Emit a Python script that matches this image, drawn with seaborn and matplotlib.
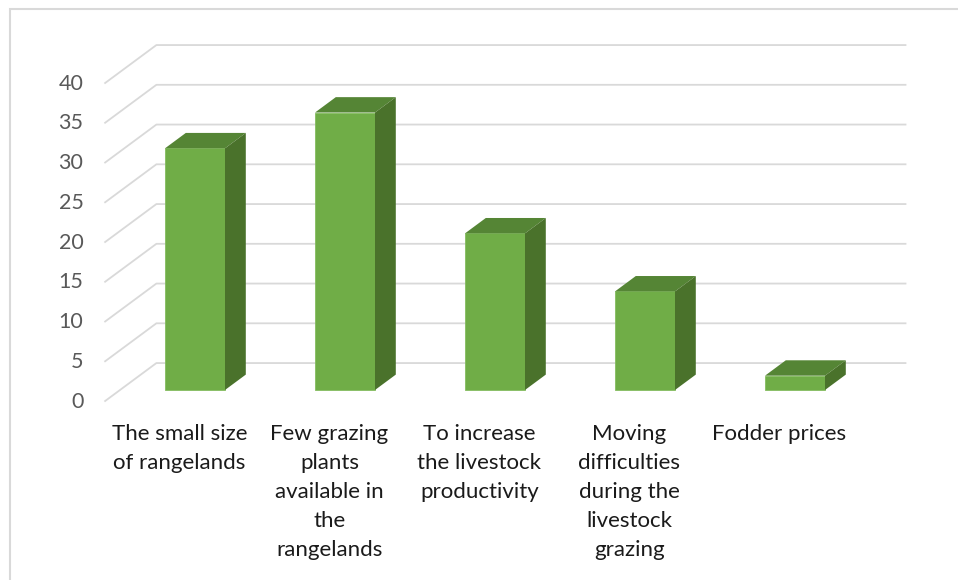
import matplotlib
matplotlib.use("Agg")
import matplotlib.pyplot as plt
from matplotlib.patches import Polygon, Rectangle
import seaborn as sns

categories = [
    "The small size\nof rangelands",
    "Few grazing\nplants\navailable in\nthe\nrangelands",
    "To increase\nthe livestock\nproductivity",
    "Moving\ndifficulties\nduring the\nlivestock\ngrazing",
    "Fodder prices",
]
values = [30.4, 34.9, 19.7, 12.4, 1.8]
yticks = [0, 5, 10, 15, 20, 25, 30, 35, 40]

sns.set_theme(style="white")
plt.rcParams["font.family"] = ["Lato", "DejaVu Sans"]

FRONT = "#70AD47"
TOP = "#558535"
SIDE = "#4A722B"
GRID = "#D9D9D9"

# pseudo-3D projection: one unit of depth moves right by DX categories and up by DY values
DX = 52 / 150
DY = 38.5 / 7.95
BAR_D0, BAR_D1 = 0.3, 0.7          # bars occupy the middle of the floor depth
BAR_W = 0.4

W, H = 958, 580
fig = plt.figure(figsize=(W / 100, H / 100), dpi=100)
ax = fig.add_axes([0, 0, 1, 1])

sns.barplot(x=list(range(len(values))), y=values, ax=ax, color=FRONT,
            saturation=1, width=BAR_W, edgecolor="#84BC60", linewidth=0.6,
            zorder=3)

# axes scale: 150 px per category, 7.95 px per value unit
ox, oy = 195, 190
ax.set_xlim(-ox / 150, (W - ox) / 150)
ax.set_ylim(-oy / 7.95, (H - oy) / 7.95)
ax.axis("off")

# bar tops and right-hand sides
bdx = (BAR_D1 - BAR_D0) * DX
bdy = (BAR_D1 - BAR_D0) * DY
for i, v in enumerate(values):
    x0, x1 = i - BAR_W / 2, i + BAR_W / 2
    ax.add_patch(Polygon([(x0, v), (x1, v), (x1 + bdx, v + bdy), (x0 + bdx, v + bdy)],
                         closed=True, facecolor=TOP, edgecolor="none", zorder=3))
    ax.add_patch(Polygon([(x1, 0), (x1, v), (x1 + bdx, v + bdy), (x1 + bdx, bdy)],
                         closed=True, facecolor=SIDE, edgecolor="none", zorder=3))

# floor/back-wall gridlines
n = len(values)
fx, fy = -BAR_D0 * DX, -BAR_D0 * DY
bx, by = (1 - BAR_D0) * DX, (1 - BAR_D0) * DY
for t in yticks:
    ax.plot([-0.5 + fx, -0.5 + bx, n - 0.5 + bx], [t + fy, t + by, t + by],
            color=GRID, lw=1.3, zorder=1, solid_capstyle="butt")
    ax.text(-0.5 + fx - 0.14, t + fy, str(t), ha="right", va="center",
            fontsize=15.5, color="#595959")

# category labels under the front edge
for i, lab in enumerate(categories):
    ax.text(i + fx, fy - 2.85, lab, ha="center", va="top", fontsize=16,
            color="#1A1A1A", linespacing=1.56)

# chart frame
fig.patches.append(Rectangle((9.5 / W, -0.1), 1.2, 1 - 9.5 / H + 0.1,
                             transform=fig.transFigure, fill=False,
                             edgecolor=GRID, lw=1.5))

fig.savefig("out.png", dpi=100)
